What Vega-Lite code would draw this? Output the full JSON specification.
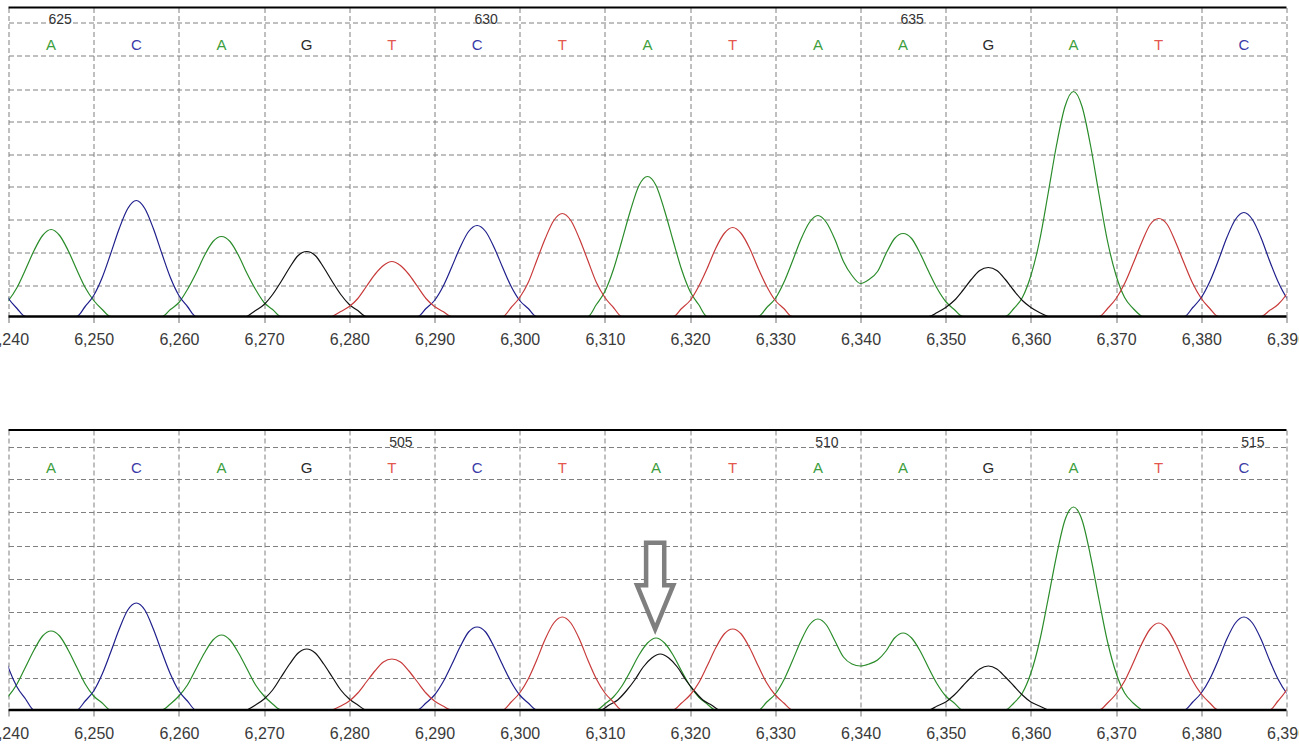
{
  "$schema": "https://vega.github.io/schema/vega-lite/v6.json",
  "background": "white",
  "padding": {"left": -12.5, "top": 6.5, "right": -7, "bottom": 0},
  "spacing": 113.5,
  "bounds": "flush",
  "config": {
    "view": {"stroke": null},
    "font": "Liberation Sans",
    "axisX": {"grid": true, "gridColor": "#808080", "gridDash": [5, 3], "gridWidth": 1, "domain": false, "ticks": true, "tickColor": "#707070", "tickSize": 6, "labelFont": "Liberation Sans", "labelFontSize": 16, "labelColor": "#3a3a3a", "labelPadding": 9, "labelFlush": false, "labelOverlap": false},
    "axisY": {"grid": true, "gridColor": "#808080", "gridDash": [5, 3], "gridWidth": 1, "domain": false, "ticks": false, "labels": false, "tickCount": 30}
  },
  "datasets": {
    "top": [
      {"base":"A","x":6238,"y":0},{"base":"A","x":6239,"y":7},{"base":"A","x":6240,"y":16},{"base":"A","x":6241,"y":29},{"base":"A","x":6242,"y":47},{"base":"A","x":6243,"y":66},{"base":"A","x":6244,"y":81},{"base":"A","x":6245,"y":87},{"base":"A","x":6246,"y":81},{"base":"A","x":6247,"y":66},{"base":"A","x":6248,"y":47},{"base":"A","x":6249,"y":29},{"base":"A","x":6250,"y":16},{"base":"A","x":6251,"y":7},{"base":"A","x":6252,"y":0},
      {"base":"A","x":6258,"y":0},{"base":"A","x":6259,"y":7},{"base":"A","x":6260,"y":14},{"base":"A","x":6261,"y":27},{"base":"A","x":6262,"y":43},{"base":"A","x":6263,"y":61},{"base":"A","x":6264,"y":75},{"base":"A","x":6265,"y":80},{"base":"A","x":6266,"y":75},{"base":"A","x":6267,"y":61},{"base":"A","x":6268,"y":43},{"base":"A","x":6269,"y":27},{"base":"A","x":6270,"y":14},{"base":"A","x":6271,"y":7},{"base":"A","x":6272,"y":0},
      {"base":"A","x":6308,"y":0},{"base":"A","x":6309,"y":12},{"base":"A","x":6310,"y":25},{"base":"A","x":6311,"y":47},{"base":"A","x":6312,"y":76},{"base":"A","x":6313,"y":106},{"base":"A","x":6314,"y":131},{"base":"A","x":6315,"y":140},{"base":"A","x":6316,"y":131},{"base":"A","x":6317,"y":106},{"base":"A","x":6318,"y":76},{"base":"A","x":6319,"y":47},{"base":"A","x":6320,"y":25},{"base":"A","x":6321,"y":12},{"base":"A","x":6322,"y":0},
      {"base":"A","x":6328,"y":0},{"base":"A","x":6329,"y":9},{"base":"A","x":6330,"y":18},{"base":"A","x":6331,"y":34},{"base":"A","x":6332,"y":55},{"base":"A","x":6333,"y":77},{"base":"A","x":6334,"y":94},{"base":"A","x":6335,"y":101},{"base":"A","x":6336,"y":94},{"base":"A","x":6337,"y":77},{"base":"A","x":6338,"y":55},{"base":"A","x":6339,"y":41},{"base":"A","x":6340,"y":33},{"base":"A","x":6341,"y":37},{"base":"A","x":6342,"y":45},{"base":"A","x":6343,"y":63},{"base":"A","x":6344,"y":78},{"base":"A","x":6345,"y":83},{"base":"A","x":6346,"y":78},{"base":"A","x":6347,"y":63},{"base":"A","x":6348,"y":45},{"base":"A","x":6349,"y":28},{"base":"A","x":6350,"y":15},{"base":"A","x":6351,"y":7},{"base":"A","x":6352,"y":0},
      {"base":"A","x":6357,"y":0},{"base":"A","x":6358,"y":8},{"base":"A","x":6359,"y":19},{"base":"A","x":6360,"y":41},{"base":"A","x":6361,"y":75},{"base":"A","x":6362,"y":122},{"base":"A","x":6363,"y":171},{"base":"A","x":6364,"y":210},{"base":"A","x":6365,"y":225},{"base":"A","x":6366,"y":210},{"base":"A","x":6367,"y":171},{"base":"A","x":6368,"y":122},{"base":"A","x":6369,"y":75},{"base":"A","x":6370,"y":41},{"base":"A","x":6371,"y":19},{"base":"A","x":6372,"y":8},{"base":"A","x":6373,"y":0},
      {"base":"C","x":6235,"y":100},{"base":"C","x":6236,"y":93},{"base":"C","x":6237,"y":76},{"base":"C","x":6238,"y":54},{"base":"C","x":6239,"y":33},{"base":"C","x":6240,"y":18},{"base":"C","x":6241,"y":8},{"base":"C","x":6242,"y":0},
      {"base":"C","x":6248,"y":0},{"base":"C","x":6249,"y":10},{"base":"C","x":6250,"y":21},{"base":"C","x":6251,"y":39},{"base":"C","x":6252,"y":63},{"base":"C","x":6253,"y":88},{"base":"C","x":6254,"y":108},{"base":"C","x":6255,"y":116},{"base":"C","x":6256,"y":108},{"base":"C","x":6257,"y":88},{"base":"C","x":6258,"y":63},{"base":"C","x":6259,"y":39},{"base":"C","x":6260,"y":21},{"base":"C","x":6261,"y":10},{"base":"C","x":6262,"y":0},
      {"base":"C","x":6288,"y":0},{"base":"C","x":6289,"y":8},{"base":"C","x":6290,"y":16},{"base":"C","x":6291,"y":30},{"base":"C","x":6292,"y":49},{"base":"C","x":6293,"y":69},{"base":"C","x":6294,"y":85},{"base":"C","x":6295,"y":91},{"base":"C","x":6296,"y":85},{"base":"C","x":6297,"y":69},{"base":"C","x":6298,"y":49},{"base":"C","x":6299,"y":30},{"base":"C","x":6300,"y":16},{"base":"C","x":6301,"y":8},{"base":"C","x":6302,"y":0},
      {"base":"C","x":6378,"y":0},{"base":"C","x":6379,"y":9},{"base":"C","x":6380,"y":19},{"base":"C","x":6381,"y":35},{"base":"C","x":6382,"y":56},{"base":"C","x":6383,"y":79},{"base":"C","x":6384,"y":97},{"base":"C","x":6385,"y":104},{"base":"C","x":6386,"y":97},{"base":"C","x":6387,"y":79},{"base":"C","x":6388,"y":56},{"base":"C","x":6389,"y":35},{"base":"C","x":6390,"y":19},{"base":"C","x":6391,"y":9},{"base":"C","x":6392,"y":0},
      {"base":"G","x":6268,"y":0},{"base":"G","x":6269,"y":6},{"base":"G","x":6270,"y":12},{"base":"G","x":6271,"y":22},{"base":"G","x":6272,"y":35},{"base":"G","x":6273,"y":49},{"base":"G","x":6274,"y":61},{"base":"G","x":6275,"y":65},{"base":"G","x":6276,"y":61},{"base":"G","x":6277,"y":49},{"base":"G","x":6278,"y":35},{"base":"G","x":6279,"y":22},{"base":"G","x":6280,"y":12},{"base":"G","x":6281,"y":6},{"base":"G","x":6282,"y":0},
      {"base":"G","x":6348,"y":0},{"base":"G","x":6349,"y":4},{"base":"G","x":6350,"y":9},{"base":"G","x":6351,"y":16},{"base":"G","x":6352,"y":26},{"base":"G","x":6353,"y":37},{"base":"G","x":6354,"y":46},{"base":"G","x":6355,"y":49},{"base":"G","x":6356,"y":46},{"base":"G","x":6357,"y":37},{"base":"G","x":6358,"y":26},{"base":"G","x":6359,"y":16},{"base":"G","x":6360,"y":9},{"base":"G","x":6361,"y":4},{"base":"G","x":6362,"y":0},
      {"base":"T","x":6278,"y":0},{"base":"T","x":6279,"y":5},{"base":"T","x":6280,"y":10},{"base":"T","x":6281,"y":18},{"base":"T","x":6282,"y":30},{"base":"T","x":6283,"y":42},{"base":"T","x":6284,"y":51},{"base":"T","x":6285,"y":55},{"base":"T","x":6286,"y":51},{"base":"T","x":6287,"y":42},{"base":"T","x":6288,"y":30},{"base":"T","x":6289,"y":18},{"base":"T","x":6290,"y":10},{"base":"T","x":6291,"y":5},{"base":"T","x":6292,"y":0},
      {"base":"T","x":6298,"y":0},{"base":"T","x":6299,"y":9},{"base":"T","x":6300,"y":19},{"base":"T","x":6301,"y":34},{"base":"T","x":6302,"y":56},{"base":"T","x":6303,"y":78},{"base":"T","x":6304,"y":96},{"base":"T","x":6305,"y":103},{"base":"T","x":6306,"y":96},{"base":"T","x":6307,"y":78},{"base":"T","x":6308,"y":56},{"base":"T","x":6309,"y":34},{"base":"T","x":6310,"y":19},{"base":"T","x":6311,"y":9},{"base":"T","x":6312,"y":0},
      {"base":"T","x":6318,"y":0},{"base":"T","x":6319,"y":8},{"base":"T","x":6320,"y":16},{"base":"T","x":6321,"y":30},{"base":"T","x":6322,"y":48},{"base":"T","x":6323,"y":68},{"base":"T","x":6324,"y":83},{"base":"T","x":6325,"y":89},{"base":"T","x":6326,"y":83},{"base":"T","x":6327,"y":68},{"base":"T","x":6328,"y":48},{"base":"T","x":6329,"y":30},{"base":"T","x":6330,"y":16},{"base":"T","x":6331,"y":8},{"base":"T","x":6332,"y":0},
      {"base":"T","x":6368,"y":0},{"base":"T","x":6369,"y":8},{"base":"T","x":6370,"y":18},{"base":"T","x":6371,"y":33},{"base":"T","x":6372,"y":53},{"base":"T","x":6373,"y":74},{"base":"T","x":6374,"y":92},{"base":"T","x":6375,"y":98},{"base":"T","x":6376,"y":92},{"base":"T","x":6377,"y":74},{"base":"T","x":6378,"y":53},{"base":"T","x":6379,"y":33},{"base":"T","x":6380,"y":18},{"base":"T","x":6381,"y":8},{"base":"T","x":6382,"y":0},
      {"base":"T","x":6387,"y":0},{"base":"T","x":6388,"y":6},{"base":"T","x":6389,"y":12},{"base":"T","x":6390,"y":22},{"base":"T","x":6391,"y":36},{"base":"T","x":6392,"y":50},{"base":"T","x":6393,"y":62}
    ],
    "bottom": [
      {"base":"A","x":6238,"y":0},{"base":"A","x":6239,"y":7},{"base":"A","x":6240,"y":14},{"base":"A","x":6241,"y":26},{"base":"A","x":6242,"y":43},{"base":"A","x":6243,"y":60},{"base":"A","x":6244,"y":74},{"base":"A","x":6245,"y":79},{"base":"A","x":6246,"y":74},{"base":"A","x":6247,"y":60},{"base":"A","x":6248,"y":43},{"base":"A","x":6249,"y":26},{"base":"A","x":6250,"y":14},{"base":"A","x":6251,"y":7},{"base":"A","x":6252,"y":0},
      {"base":"A","x":6258,"y":0},{"base":"A","x":6259,"y":6},{"base":"A","x":6260,"y":14},{"base":"A","x":6261,"y":25},{"base":"A","x":6262,"y":41},{"base":"A","x":6263,"y":57},{"base":"A","x":6264,"y":70},{"base":"A","x":6265,"y":75},{"base":"A","x":6266,"y":70},{"base":"A","x":6267,"y":57},{"base":"A","x":6268,"y":41},{"base":"A","x":6269,"y":25},{"base":"A","x":6270,"y":14},{"base":"A","x":6271,"y":6},{"base":"A","x":6272,"y":0},
      {"base":"A","x":6309,"y":0},{"base":"A","x":6310,"y":6},{"base":"A","x":6311,"y":13},{"base":"A","x":6312,"y":24},{"base":"A","x":6313,"y":39},{"base":"A","x":6314,"y":55},{"base":"A","x":6315,"y":67},{"base":"A","x":6316,"y":72},{"base":"A","x":6317,"y":67},{"base":"A","x":6318,"y":55},{"base":"A","x":6319,"y":39},{"base":"A","x":6320,"y":24},{"base":"A","x":6321,"y":13},{"base":"A","x":6322,"y":6},{"base":"A","x":6323,"y":0},
      {"base":"A","x":6328,"y":0},{"base":"A","x":6329,"y":8},{"base":"A","x":6330,"y":16},{"base":"A","x":6331,"y":30},{"base":"A","x":6332,"y":49},{"base":"A","x":6333,"y":69},{"base":"A","x":6334,"y":85},{"base":"A","x":6335,"y":91},{"base":"A","x":6336,"y":85},{"base":"A","x":6337,"y":69},{"base":"A","x":6338,"y":53},{"base":"A","x":6339,"y":46},{"base":"A","x":6340,"y":44},{"base":"A","x":6341,"y":46},{"base":"A","x":6342,"y":50},{"base":"A","x":6343,"y":59},{"base":"A","x":6344,"y":72},{"base":"A","x":6345,"y":77},{"base":"A","x":6346,"y":72},{"base":"A","x":6347,"y":59},{"base":"A","x":6348,"y":42},{"base":"A","x":6349,"y":26},{"base":"A","x":6350,"y":14},{"base":"A","x":6351,"y":7},{"base":"A","x":6352,"y":0},
      {"base":"A","x":6357,"y":0},{"base":"A","x":6358,"y":7},{"base":"A","x":6359,"y":17},{"base":"A","x":6360,"y":37},{"base":"A","x":6361,"y":68},{"base":"A","x":6362,"y":110},{"base":"A","x":6363,"y":154},{"base":"A","x":6364,"y":190},{"base":"A","x":6365,"y":203},{"base":"A","x":6366,"y":190},{"base":"A","x":6367,"y":154},{"base":"A","x":6368,"y":110},{"base":"A","x":6369,"y":68},{"base":"A","x":6370,"y":37},{"base":"A","x":6371,"y":17},{"base":"A","x":6372,"y":7},{"base":"A","x":6373,"y":0},
      {"base":"C","x":6234,"y":95},{"base":"C","x":6235,"y":117},{"base":"C","x":6236,"y":125},{"base":"C","x":6237,"y":117},{"base":"C","x":6238,"y":95},{"base":"C","x":6239,"y":68},{"base":"C","x":6240,"y":42},{"base":"C","x":6241,"y":23},{"base":"C","x":6242,"y":11},{"base":"C","x":6243,"y":0},
      {"base":"C","x":6248,"y":0},{"base":"C","x":6249,"y":9},{"base":"C","x":6250,"y":19},{"base":"C","x":6251,"y":36},{"base":"C","x":6252,"y":58},{"base":"C","x":6253,"y":81},{"base":"C","x":6254,"y":100},{"base":"C","x":6255,"y":107},{"base":"C","x":6256,"y":100},{"base":"C","x":6257,"y":81},{"base":"C","x":6258,"y":58},{"base":"C","x":6259,"y":36},{"base":"C","x":6260,"y":19},{"base":"C","x":6261,"y":9},{"base":"C","x":6262,"y":0},
      {"base":"C","x":6288,"y":0},{"base":"C","x":6289,"y":7},{"base":"C","x":6290,"y":15},{"base":"C","x":6291,"y":28},{"base":"C","x":6292,"y":45},{"base":"C","x":6293,"y":63},{"base":"C","x":6294,"y":78},{"base":"C","x":6295,"y":83},{"base":"C","x":6296,"y":78},{"base":"C","x":6297,"y":63},{"base":"C","x":6298,"y":45},{"base":"C","x":6299,"y":28},{"base":"C","x":6300,"y":15},{"base":"C","x":6301,"y":7},{"base":"C","x":6302,"y":0},
      {"base":"C","x":6378,"y":0},{"base":"C","x":6379,"y":8},{"base":"C","x":6380,"y":17},{"base":"C","x":6381,"y":31},{"base":"C","x":6382,"y":50},{"base":"C","x":6383,"y":71},{"base":"C","x":6384,"y":87},{"base":"C","x":6385,"y":93},{"base":"C","x":6386,"y":87},{"base":"C","x":6387,"y":71},{"base":"C","x":6388,"y":50},{"base":"C","x":6389,"y":31},{"base":"C","x":6390,"y":17},{"base":"C","x":6391,"y":8},{"base":"C","x":6392,"y":0},
      {"base":"G","x":6268,"y":0},{"base":"G","x":6269,"y":5},{"base":"G","x":6270,"y":11},{"base":"G","x":6271,"y":20},{"base":"G","x":6272,"y":33},{"base":"G","x":6273,"y":46},{"base":"G","x":6274,"y":57},{"base":"G","x":6275,"y":61},{"base":"G","x":6276,"y":57},{"base":"G","x":6277,"y":46},{"base":"G","x":6278,"y":33},{"base":"G","x":6279,"y":20},{"base":"G","x":6280,"y":11},{"base":"G","x":6281,"y":5},{"base":"G","x":6282,"y":0},
      {"base":"G","x":6309.5,"y":0},{"base":"G","x":6310.5,"y":5},{"base":"G","x":6311.5,"y":10},{"base":"G","x":6312.5,"y":19},{"base":"G","x":6313.5,"y":30},{"base":"G","x":6314.5,"y":43},{"base":"G","x":6315.5,"y":52},{"base":"G","x":6316.5,"y":56},{"base":"G","x":6317.5,"y":52},{"base":"G","x":6318.5,"y":43},{"base":"G","x":6319.5,"y":30},{"base":"G","x":6320.5,"y":19},{"base":"G","x":6321.5,"y":10},{"base":"G","x":6322.5,"y":5},{"base":"G","x":6323.5,"y":0},
      {"base":"G","x":6348,"y":0},{"base":"G","x":6349,"y":4},{"base":"G","x":6350,"y":8},{"base":"G","x":6351,"y":15},{"base":"G","x":6352,"y":24},{"base":"G","x":6353,"y":33},{"base":"G","x":6354,"y":41},{"base":"G","x":6355,"y":44},{"base":"G","x":6356,"y":41},{"base":"G","x":6357,"y":33},{"base":"G","x":6358,"y":24},{"base":"G","x":6359,"y":15},{"base":"G","x":6360,"y":8},{"base":"G","x":6361,"y":4},{"base":"G","x":6362,"y":0},
      {"base":"T","x":6278,"y":0},{"base":"T","x":6279,"y":4},{"base":"T","x":6280,"y":9},{"base":"T","x":6281,"y":17},{"base":"T","x":6282,"y":28},{"base":"T","x":6283,"y":39},{"base":"T","x":6284,"y":48},{"base":"T","x":6285,"y":51},{"base":"T","x":6286,"y":48},{"base":"T","x":6287,"y":39},{"base":"T","x":6288,"y":28},{"base":"T","x":6289,"y":17},{"base":"T","x":6290,"y":9},{"base":"T","x":6291,"y":4},{"base":"T","x":6292,"y":0},
      {"base":"T","x":6298,"y":0},{"base":"T","x":6299,"y":8},{"base":"T","x":6300,"y":17},{"base":"T","x":6301,"y":31},{"base":"T","x":6302,"y":50},{"base":"T","x":6303,"y":71},{"base":"T","x":6304,"y":87},{"base":"T","x":6305,"y":93},{"base":"T","x":6306,"y":87},{"base":"T","x":6307,"y":71},{"base":"T","x":6308,"y":50},{"base":"T","x":6309,"y":31},{"base":"T","x":6310,"y":17},{"base":"T","x":6311,"y":8},{"base":"T","x":6312,"y":0},
      {"base":"T","x":6318,"y":0},{"base":"T","x":6319,"y":7},{"base":"T","x":6320,"y":15},{"base":"T","x":6321,"y":27},{"base":"T","x":6322,"y":44},{"base":"T","x":6323,"y":62},{"base":"T","x":6324,"y":76},{"base":"T","x":6325,"y":81},{"base":"T","x":6326,"y":76},{"base":"T","x":6327,"y":62},{"base":"T","x":6328,"y":44},{"base":"T","x":6329,"y":27},{"base":"T","x":6330,"y":15},{"base":"T","x":6331,"y":7},{"base":"T","x":6332,"y":0},
      {"base":"T","x":6368,"y":0},{"base":"T","x":6369,"y":7},{"base":"T","x":6370,"y":16},{"base":"T","x":6371,"y":29},{"base":"T","x":6372,"y":47},{"base":"T","x":6373,"y":66},{"base":"T","x":6374,"y":81},{"base":"T","x":6375,"y":87},{"base":"T","x":6376,"y":81},{"base":"T","x":6377,"y":66},{"base":"T","x":6378,"y":47},{"base":"T","x":6379,"y":29},{"base":"T","x":6380,"y":16},{"base":"T","x":6381,"y":7},{"base":"T","x":6382,"y":0},
      {"base":"T","x":6388,"y":0},{"base":"T","x":6389,"y":9},{"base":"T","x":6390,"y":20},{"base":"T","x":6391,"y":37},{"base":"T","x":6392,"y":59},{"base":"T","x":6393,"y":84}
    ],
    "topCalls": [
      {"x":6245,"base":"A","num":"625"},{"x":6255,"base":"C","num":""},{"x":6265,"base":"A","num":""},{"x":6275,"base":"G","num":""},{"x":6285,"base":"T","num":""},
      {"x":6295,"base":"C","num":"630"},{"x":6305,"base":"T","num":""},{"x":6315,"base":"A","num":""},{"x":6325,"base":"T","num":""},{"x":6335,"base":"A","num":""},
      {"x":6345,"base":"A","num":"635"},{"x":6355,"base":"G","num":""},{"x":6365,"base":"A","num":""},{"x":6375,"base":"T","num":""},{"x":6385,"base":"C","num":""}
    ],
    "bottomCalls": [
      {"x":6245,"base":"A","num":""},{"x":6255,"base":"C","num":""},{"x":6265,"base":"A","num":""},{"x":6275,"base":"G","num":""},{"x":6285,"base":"T","num":"505"},
      {"x":6295,"base":"C","num":""},{"x":6305,"base":"T","num":""},{"x":6316,"base":"A","num":""},{"x":6325,"base":"T","num":""},{"x":6335,"base":"A","num":"510"},
      {"x":6345,"base":"A","num":""},{"x":6355,"base":"G","num":""},{"x":6365,"base":"A","num":""},{"x":6375,"base":"T","num":""},{"x":6385,"base":"C","num":"515"}
    ]
  },
  "vconcat": [
    {
      "width": 1278,
      "height": 309,
      "layer": [
        {
          "data": {"name": "top"},
          "mark": {"type": "line", "interpolate": "monotone", "strokeWidth": 1.2, "clip": true},
          "encoding": {
            "x": {"field": "x", "type": "quantitative", "title": null, "scale": {"domain": [6240, 6390], "nice": false, "zero": false}, "axis": {"values": [6240,6250,6260,6270,6280,6290,6300,6310,6320,6330,6340,6350,6360,6370,6380,6390], "format": ",", "tickCount": 40, "labelFlush": false}},
            "y": {"field": "y", "type": "quantitative", "title": null, "scale": {"domain": [0, 309], "nice": false}, "axis": {"values": [31, 64, 97, 130, 162.5, 195, 227.5, 260.5, 294], "tickCount": 30}},
            "stroke": {"field": "base", "type": "nominal", "scale": {"domain": ["A", "C", "G", "T"], "range": ["#2a8c2a", "#1f1f8c", "#111111", "#c83a3a"]}, "legend": null}
          }
        },
        {
          "data": {"values": [{}]},
          "mark": {"type": "rule", "color": "#000000", "strokeWidth": 2.5},
          "encoding": {"y": {"datum": 0}}
        },
        {
          "data": {"values": [{}]},
          "mark": {"type": "rule", "color": "#000000", "strokeWidth": 2},
          "encoding": {"y": {"datum": 309}}
        },
        {
          "data": {"name": "topCalls"},
          "mark": {"type": "text", "fontSize": 15, "baseline": "middle"},
          "encoding": {
            "x": {"field": "x", "type": "quantitative", "title": null},
            "y": {"datum": 271.5},
            "text": {"field": "base"},
            "fill": {"field": "base", "type": "nominal", "scale": {"domain": ["A", "C", "G", "T"], "range": ["#3d9e3d", "#3a3aa6", "#2a2a2a", "#e4574f"]}, "legend": null}
          }
        },
        {
          "data": {"name": "topCalls"},
          "mark": {"type": "text", "fontSize": 14, "dx": 9, "baseline": "middle", "color": "#333333"},
          "encoding": {
            "x": {"field": "x", "type": "quantitative", "title": null},
            "y": {"datum": 296.5},
            "text": {"field": "num"}
          }
        }
      ]
    },
    {
      "width": 1278,
      "height": 280,
      "layer": [
        {
          "data": {"name": "bottom"},
          "mark": {"type": "line", "interpolate": "monotone", "strokeWidth": 1.2, "clip": true},
          "encoding": {
            "x": {"field": "x", "type": "quantitative", "title": null, "scale": {"domain": [6240, 6390], "nice": false, "zero": false}, "axis": {"values": [6240,6250,6260,6270,6280,6290,6300,6310,6320,6330,6340,6350,6360,6370,6380,6390], "format": ",", "tickCount": 40, "labelFlush": false}},
            "y": {"field": "y", "type": "quantitative", "title": null, "scale": {"domain": [0, 280], "nice": false}, "axis": {"values": [32, 65, 98, 131, 164, 197.5, 231, 263], "tickCount": 30}},
            "stroke": {"field": "base", "type": "nominal", "scale": {"domain": ["A", "C", "G", "T"], "range": ["#2a8c2a", "#1f1f8c", "#111111", "#c83a3a"]}, "legend": null}
          }
        },
        {
          "data": {"values": [{}]},
          "mark": {"type": "rule", "color": "#000000", "strokeWidth": 2.5},
          "encoding": {"y": {"datum": 0}}
        },
        {
          "data": {"values": [{}]},
          "mark": {"type": "rule", "color": "#000000", "strokeWidth": 2},
          "encoding": {"y": {"datum": 280}}
        },
        {
          "data": {"name": "bottomCalls"},
          "mark": {"type": "text", "fontSize": 15, "baseline": "middle"},
          "encoding": {
            "x": {"field": "x", "type": "quantitative", "title": null},
            "y": {"datum": 242},
            "text": {"field": "base"},
            "fill": {"field": "base", "type": "nominal", "scale": {"domain": ["A", "C", "G", "T"], "range": ["#3d9e3d", "#3a3aa6", "#2a2a2a", "#e4574f"]}, "legend": null}
          }
        },
        {
          "data": {"name": "bottomCalls"},
          "mark": {"type": "text", "fontSize": 14, "dx": 9, "baseline": "middle", "color": "#333333"},
          "encoding": {
            "x": {"field": "x", "type": "quantitative", "title": null},
            "y": {"datum": 267},
            "text": {"field": "num"}
          }
        },
        {
          "data": {"values": [{}]},
          "mark": {"type": "point", "shape": "M-0.21,-1L0.21,-1L0.21,-0.02L0.42,-0.02L0,1L-0.42,-0.02L-0.21,-0.02Z", "size": 7448, "filled": true, "fill": "#ffffff", "stroke": "#7f7f7f", "strokeWidth": 4.5, "opacity": 1, "strokeJoin": "miter"},
          "encoding": {"x": {"datum": 6315.9}, "y": {"datum": 124}}
        }
      ]
    }
  ]
}
